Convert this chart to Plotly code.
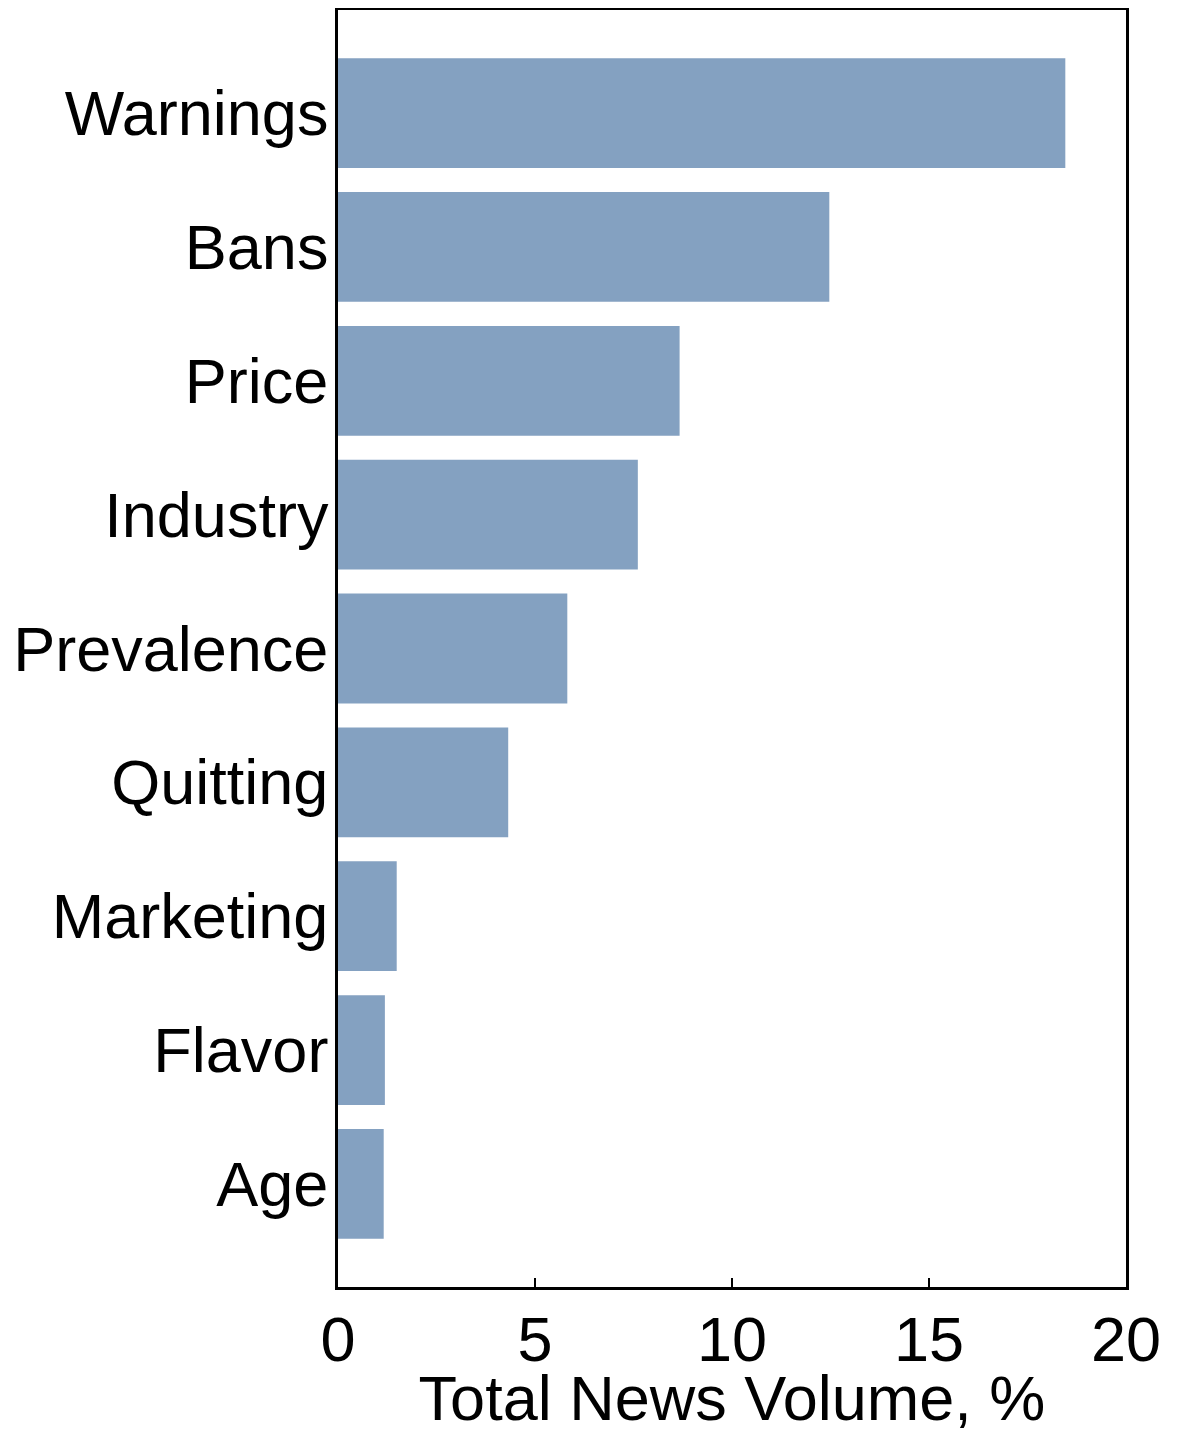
import plotly.graph_objects as go

categories = ["Warnings", "Bans", "Price", "Industry", "Prevalence", "Quitting", "Marketing", "Flavor", "Age"]
values = [18.46, 12.47, 8.67, 7.61, 5.82, 4.32, 1.49, 1.19, 1.16]
x_ticks = [0, 5, 10, 15, 20]

fig = go.Figure(go.Bar(
    x=values, y=categories, orientation="h",
    marker=dict(color="#84a1c1", line=dict(width=0)),
))

font = "Liberation Sans, Arial, sans-serif"
fs = 63
fig.update_layout(
    width=1170, height=1425,
    margin=dict(l=330, r=52, t=2, b=146, autoexpand=False),
    paper_bgcolor="white", plot_bgcolor="white",
    bargap=0.18, showlegend=False,
    font=dict(family=font, color="black"),
)
fig.update_xaxes(
    range=[0, 20], tickvals=x_ticks, ticktext=[str(t) for t in x_ticks],
    ticks="inside", ticklen=9, tickwidth=2, tickcolor="black",
    showline=True, linecolor="black", linewidth=3, mirror=True,
    showgrid=False, zeroline=False,
    tickfont=dict(size=fs, family=font), ticklabelstandoff=-5,
    title=dict(text="Total News Volume, %", font=dict(size=fs, family=font), standoff=3),
    automargin=False,
)
fig.update_yaxes(
    categoryorder="array", categoryarray=categories,
    autorange=False, range=[8.77, -0.77],
    ticks="", showline=True, linecolor="black", linewidth=3, mirror=True,
    showgrid=False, zeroline=False,
    tickfont=dict(size=fs, family=font), ticklabelstandoff=-6,
    automargin=False,
)
fig.write_html("out.html")
